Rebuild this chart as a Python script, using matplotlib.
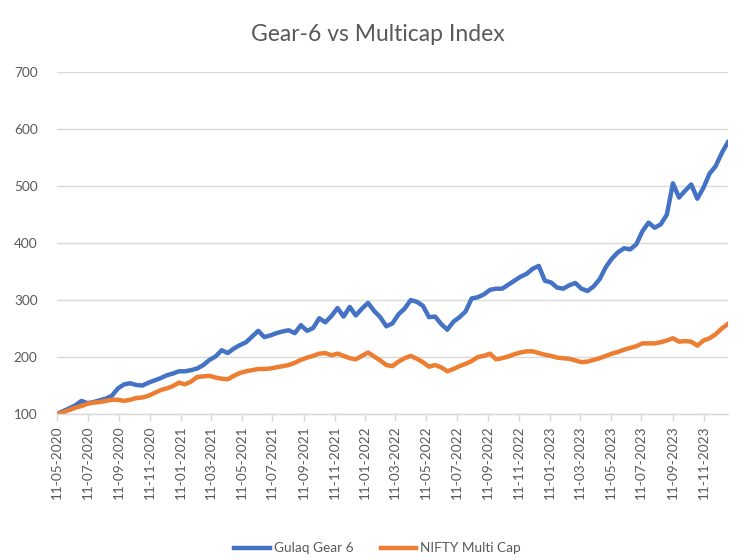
import matplotlib
matplotlib.use("Agg")
import matplotlib.pyplot as plt
import matplotlib.dates as mdates
import pandas as pd

# DATA (roughly every 12 days)
START_DATE = "2020-05-11"
END_DATE = "2023-12-29"

gear6 = [100, 105, 110, 115, 123, 119, 121, 124, 127, 132,
         145, 152, 154, 151, 150, 155, 159, 163, 168, 171,
         175, 175, 177, 180, 186, 195, 201, 212, 207, 215,
         221, 226, 236, 246, 235, 238, 242, 245, 247, 242,
         256, 246, 251, 268, 261, 272, 286, 271, 288, 273,
         285, 295, 281, 270, 254, 259, 275, 285, 300, 297,
         290, 270, 271, 258, 248, 262, 270, 280, 303, 305,
         310, 318, 320, 320, 327, 334, 341, 346, 355, 360,
         334, 331, 322, 320, 326, 330, 320, 316, 324, 337,
         358, 373, 384, 391, 389, 398, 421, 436, 427, 433,
         450, 505, 480, 492, 503, 478, 497, 522, 535, 558,
         577]

multicap = [100, 103, 107, 111, 114, 118, 120, 121, 123, 125,
            125, 123, 125, 128, 129, 132, 137, 142, 145, 149,
            155, 152, 157, 165, 166, 167, 164, 162, 161, 167,
            172, 175, 177, 179, 179, 180, 182, 184, 186, 190,
            195, 199, 202, 206, 207, 203, 206, 202, 198, 196,
            202, 208, 201, 194, 186, 184, 192, 198, 202, 197,
            191, 183, 186, 182, 175, 179, 184, 188, 193, 200,
            202, 206, 196, 198, 201, 205, 208, 210, 210, 207,
            204, 202, 199, 198, 197, 194, 191, 192, 195, 198,
            202, 206, 209, 213, 216, 219, 224, 224, 224, 226,
            229, 233, 227, 228, 227, 220, 229, 233, 240, 250,
            258]

series_names = ["Gulaq Gear 6", "NIFTY Multi Cap"]
chart_title = "Gear-6 vs Multicap Index"
y_ticks = [100, 200, 300, 400, 500, 600, 700]

dates = pd.date_range(START_DATE, END_DATE, periods=len(gear6))
tick_dates = pd.date_range("2020-05-01", "2023-11-01", freq="2MS") + pd.Timedelta(days=10)

TEXT = "#595959"
GRID = "#D9D9D9"

plt.rcParams["font.family"] = ["Lato", "DejaVu Sans"]

fig = plt.figure(figsize=(7.55, 5.6), dpi=100)
ax = fig.add_axes([0.0755, 0.2607, 0.8885, 0.6103])

ax.plot(dates, gear6, color="#4472C4", lw=3.2, label=series_names[0], solid_joinstyle="round")
ax.plot(dates, multicap, color="#ED7D31", lw=3.2, label=series_names[1], solid_joinstyle="round")

ax.set_ylim(100, 700)
ax.set_yticks(y_ticks)
ax.set_xlim(dates[0], dates[-1])
ax.set_xticks(tick_dates)
ax.xaxis.set_major_formatter(mdates.DateFormatter("%d-%m-%Y"))

ax.grid(axis="y", color=GRID, lw=1)
ax.set_axisbelow(True)
for side in ["top", "right", "left"]:
    ax.spines[side].set_visible(False)
ax.spines["bottom"].set_color(GRID)
ax.spines["bottom"].set_linewidth(1)

ax.tick_params(axis="y", length=0, pad=14, labelsize=9.8, labelcolor=TEXT)
ax.tick_params(axis="x", length=5, color=GRID, width=1, pad=3,
               labelsize=9.8, labelcolor=TEXT, labelrotation=90)

fig.suptitle(chart_title, x=0.5, y=0.958, fontsize=16.5, color=TEXT)

fig.legend(loc="lower center", bbox_to_anchor=(0.5, -0.012), ncol=2, frameon=False,
           fontsize=9.8, labelcolor=TEXT, handlelength=2.6, columnspacing=2.0,
           handletextpad=0.3)

fig.savefig("out.png", dpi=100)
